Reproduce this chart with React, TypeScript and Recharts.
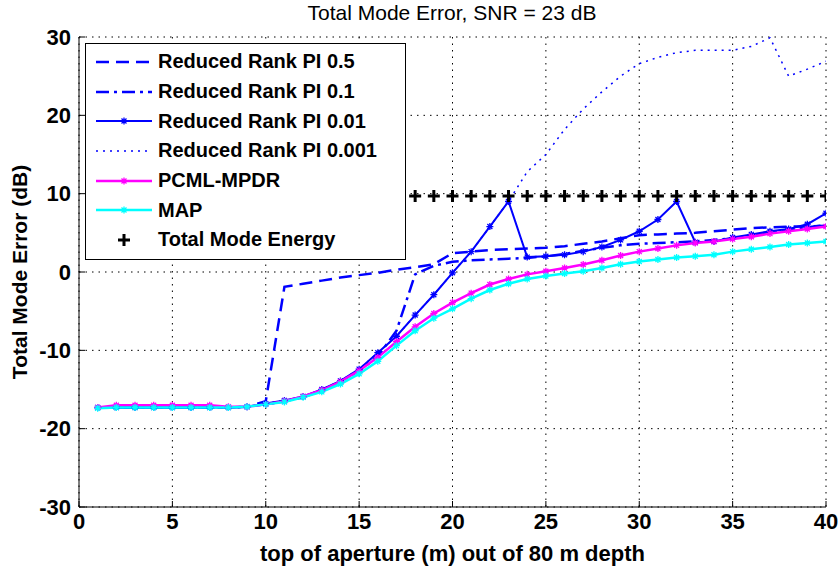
import { LineChart, Line, XAxis, YAxis, CartesianGrid } from 'recharts';

// top of aperture (m)
const depth = [1, 2, 3, 4, 5, 6, 7, 8, 9, 10, 11, 12, 13, 14, 15, 16, 17, 18, 19, 20,
  21, 22, 23, 24, 25, 26, 27, 28, 29, 30, 31, 32, 33, 34, 35, 36, 37, 38, 39, 40];

// Total mode error (dB) per method
const pi05 = [-17.3, -17.3, -17.3, -17.3, -17.3, -17.3, -17.3, -17.3, -17.2, -16.5,
  -1.9, -1.5, -1.1, -0.7, -0.4, -0.1, 0.3, 0.6, 1.0, 2.4,
  2.6, 2.8, 2.9, 3.0, 3.1, 3.3, 3.6, 3.9, 4.3, 4.7,
  4.8, 4.9, 5.0, 5.2, 5.4, 5.6, 5.7, 5.8, 5.8, 5.9];
const pi01 = [-17.3, -17.3, -17.3, -17.3, -17.3, -17.3, -17.3, -17.3, -17.2, -16.9,
  -16.5, -16.0, -15.1, -14.0, -12.6, -10.8, -7.5, -0.3, 0.8, 1.3,
  1.5, 1.6, 1.7, 1.8, 2.0, 2.3, 2.7, 3.1, 3.4, 3.6,
  3.7, 3.8, 3.9, 4.1, 4.3, 4.6, 5.0, 5.4, 5.7, 6.0];
const pi001 = [-17.3, -17.3, -17.3, -17.3, -17.3, -17.3, -17.3, -17.3, -17.2, -16.8,
  -16.4, -15.9, -15.0, -13.9, -12.4, -10.3, -8.2, -5.5, -2.9, -0.1,
  2.6, 5.8, 9.0, 1.9, 2.0, 2.2, 2.6, 3.2, 4.1, 5.2,
  6.7, 9.0, 3.8, 3.9, 4.4, 4.8, 5.2, 5.5, 6.1, 7.5];
const pi0001 = [-17.3, -17.3, -17.3, -17.3, -17.3, -17.3, -17.3, -17.3, -17.2, -16.8,
  -16.4, -15.9, -15.0, -13.9, -12.4, -10.3, -8.2, -5.5, -2.9, -0.1,
  2.6, 5.8, 9.0, 12.8, 15.0, 18.2, 20.8, 23.0, 25.0, 26.6,
  27.4, 28.0, 28.3, 28.3, 28.3, 28.8, 29.9, 25.0, 25.9, 26.9];
const pcml = [-17.3, -17.0, -17.0, -17.0, -17.0, -17.0, -17.0, -17.2, -17.2, -16.9,
  -16.5, -15.9, -15.1, -14.0, -12.6, -10.9, -8.9, -7.0, -5.3, -3.9,
  -2.7, -1.6, -0.9, -0.3, 0.1, 0.5, 0.95, 1.5, 2.1, 2.6,
  3.0, 3.4, 3.7, 3.9, 4.2, 4.5, 4.9, 5.2, 5.5, 5.8];
const mapEst = [-17.4, -17.3, -17.3, -17.3, -17.3, -17.3, -17.3, -17.3, -17.2, -16.9,
  -16.6, -16.0, -15.3, -14.3, -13.0, -11.4, -9.4, -7.5, -5.9, -4.7,
  -3.4, -2.3, -1.5, -0.9, -0.5, -0.2, 0.1, 0.5, 1.0, 1.35,
  1.6, 1.85, 2.0, 2.2, 2.6, 2.9, 3.2, 3.5, 3.7, 3.9];
const energy = [9.7, 9.7, 9.7, 9.7, 9.7, 9.7, 9.7, 9.7, 9.7, 9.7,
  9.7, 9.7, 9.7, 9.7, 9.7, 9.7, 9.7, 9.7, 9.7, 9.7,
  9.7, 9.7, 9.7, 9.7, 9.7, 9.7, 9.7, 9.7, 9.7, 9.7,
  9.7, 9.7, 9.7, 9.7, 9.7, 9.7, 9.7, 9.7, 9.7, 9.7];

const xTicks = [0, 5, 10, 15, 20, 25, 30, 35, 40];
const yTicks = [-30, -20, -10, 0, 10, 20, 30];

const data = depth.map((d, i) => ({
  depth: d,
  pi05: pi05[i],
  pi01: pi01[i],
  pi001: pi001[i],
  pi0001: pi0001[i],
  pcml: pcml[i],
  map: mapEst[i],
  energy: energy[i],
}));

const FONT = '"Liberation Sans", Arial, Helvetica, sans-serif';
const BLUE = '#0000ff';

type Marker = 'none' | 'star' | 'plus';

const SERIES: { key: string; name: string; color: string; width: number; dash?: string; line: boolean; marker: Marker }[] = [
  { key: 'pi05', name: 'Reduced Rank PI 0.5', color: BLUE, width: 2.5, dash: '13 7', line: true, marker: 'none' },
  { key: 'pi01', name: 'Reduced Rank PI 0.1', color: BLUE, width: 2.5, dash: '13 5 3 5', line: true, marker: 'none' },
  { key: 'pi001', name: 'Reduced Rank PI 0.01', color: BLUE, width: 2, line: true, marker: 'star' },
  { key: 'pi0001', name: 'Reduced Rank PI 0.001', color: BLUE, width: 1.5, dash: '2 5', line: true, marker: 'none' },
  { key: 'pcml', name: 'PCML-MPDR', color: '#ff00ff', width: 2.5, line: true, marker: 'star' },
  { key: 'map', name: 'MAP', color: '#00ffff', width: 2.5, line: true, marker: 'star' },
  { key: 'energy', name: 'Total Mode Energy', color: '#000000', width: 0, line: false, marker: 'plus' },
];

function MarkerShape({ cx, cy, color, marker }: { cx: number; cy: number; color: string; marker: Marker }) {
  if (marker === 'star') {
    const r = 3.5;
    const d = 2.5;
    return (
      <path
        d={`M${cx - r},${cy}L${cx + r},${cy}M${cx},${cy - r}L${cx},${cy + r}M${cx - d},${cy - d}L${cx + d},${cy + d}M${cx - d},${cy + d}L${cx + d},${cy - d}`}
        stroke={color}
        strokeWidth={1.3}
        fill="none"
      />
    );
  }
  if (marker === 'plus') {
    const r = 6;
    return (
      <path
        d={`M${cx - r},${cy}L${cx + r},${cy}M${cx},${cy - r}L${cx},${cy + r}`}
        stroke={color}
        strokeWidth={3}
        fill="none"
      />
    );
  }
  return null;
}

function LegendBox() {
  return (
    <div
      style={{
        position: 'absolute',
        left: 85,
        top: 43,
        width: 319,
        height: 212,
        border: '1px solid #000',
        background: '#fff',
        paddingTop: 3,
        boxSizing: 'content-box',
        fontFamily: FONT,
        fontWeight: 'bold',
        fontSize: 20,
        color: '#000',
      }}
    >
      {SERIES.map((s) => (
        <div key={s.key} style={{ height: 29.7, display: 'flex', alignItems: 'center' }}>
          <svg width={72} height={16} style={{ flex: 'none' }}>
            {s.line && (
              <line x1={10} x2={66} y1={8} y2={8} stroke={s.color} strokeWidth={s.width} strokeDasharray={s.dash} />
            )}
            <MarkerShape cx={38} cy={8} color={s.color} marker={s.marker} />
          </svg>
          <span style={{ whiteSpace: 'nowrap' }}>{s.name}</span>
        </div>
      ))}
    </div>
  );
}

const tickStyle = { fontFamily: FONT, fontWeight: 'bold' as const, fontSize: 22, fill: '#000' };

export default function App() {
  return (
    <div style={{ position: 'absolute', left: 0, top: 0, width: 838, height: 567, background: '#fff' }}>
      <LineChart width={838} height={567} data={data} margin={{ top: 37, right: 12, bottom: 0, left: 0 }}>
        <CartesianGrid stroke="#000" strokeDasharray="1.5 5" strokeWidth={1} verticalValues={xTicks} horizontalValues={yTicks} />
        <XAxis
          dataKey="depth"
          type="number"
          domain={[0, 40]}
          ticks={xTicks}
          height={60}
          allowDataOverflow
          stroke="#000"
          tickSize={-6}
          tickMargin={12}
          tick={tickStyle}
          label={{ value: 'top of aperture (m) out of 80 m depth', position: 'insideBottom', offset: 6, style: { ...tickStyle, textAnchor: 'middle' } }}
        />
        <XAxis
          xAxisId="top"
          orientation="top"
          dataKey="depth"
          type="number"
          domain={[0, 40]}
          ticks={xTicks}
          height={0}
          allowDataOverflow
          stroke="#000"
          tickSize={-6}
          tick={false}
        />
        <YAxis
          type="number"
          domain={[-30, 30]}
          ticks={yTicks}
          width={79}
          allowDataOverflow
          stroke="#000"
          tickSize={-6}
          tickMargin={14}
          tick={tickStyle}
          label={{ value: 'Total Mode Error (dB)', angle: -90, position: 'insideLeft', offset: 20, style: { ...tickStyle, fontSize: 21, textAnchor: 'middle' } }}
        />
        <YAxis
          yAxisId="right"
          orientation="right"
          type="number"
          domain={[-30, 30]}
          ticks={yTicks}
          width={0}
          allowDataOverflow
          stroke="#000"
          tickSize={-6}
          tick={false}
        />
        {SERIES.map((s) => (
          <Line
            key={s.key}
            dataKey={s.key}
            name={s.name}
            type="linear"
            stroke={s.line ? s.color : 'none'}
            strokeWidth={s.width}
            strokeDasharray={s.dash}
            isAnimationActive={false}
            dot={
              s.marker === 'none'
                ? false
                : (p: any) => <MarkerShape key={`${s.key}-${p.index}`} cx={p.cx} cy={p.cy} color={s.color} marker={s.marker} />
            }
            activeDot={false}
          />
        ))}
        <text x={452} y={20} textAnchor="middle" style={{ fontFamily: FONT, fontSize: 21, fill: '#000' }}>
          Total Mode Error, SNR = 23 dB
        </text>
      </LineChart>
      <LegendBox />
    </div>
  );
}
